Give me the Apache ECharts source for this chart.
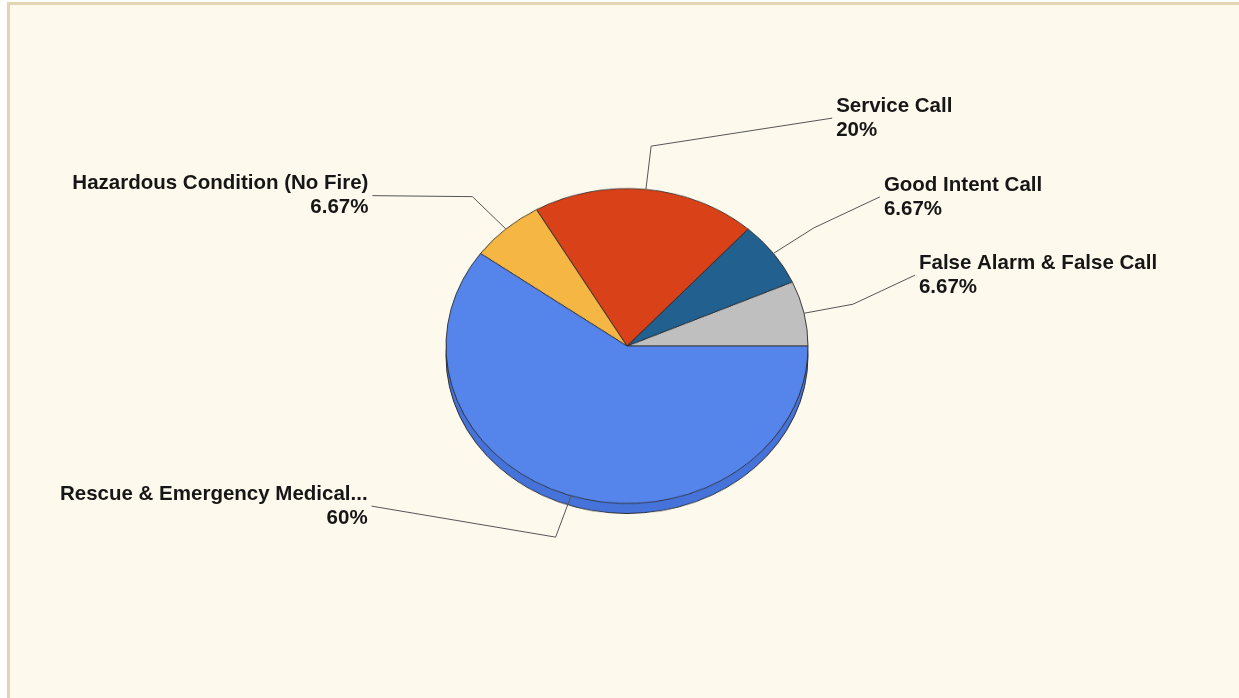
<!DOCTYPE html>
<html>
<head>
<meta charset="utf-8">
<script src="https://cdn.jsdelivr.net/npm/echarts@6/dist/echarts.min.js"></script>
<style>
  html, body { margin: 0; padding: 0; background: #ffffff; }
  #frame {
    position: absolute; left: 7px; top: 2px; width: 1240px; height: 700px;
    background: #fdf9ec; border-left: 3px solid #e4d4b4; border-top: 3px solid #e4d4b4;
  }
  .layer { position: absolute; left: 0; top: 0; width: 1239px; height: 698px; }
  #pie { transform-origin: 0 346px; transform: scaleY(0.87); }
</style>
</head>
<body>
<div id="frame"></div>
<div id="pie" class="layer"></div>
<div id="labels" class="layer"></div>
<script>
// incident counts by type (share of all calls)
var categories = [
  'False Alarm & False Call',
  'Good Intent Call',
  'Service Call',
  'Hazardous Condition (No Fire)',
  'Rescue & Emergency Medical Service Incident'
];
var counts = [1, 1, 3, 1, 9];
var colors = ['#bfbfbf', '#22608f', '#d94118', '#f5b643', '#5584eb'];

// layout of the tilted pie
var CX = 627, CY = 346, R = 181;
var TILT = 0.87;      // vertical squash of the pie
var DEPTH = 11.5;     // thickness of the pie rim (before squash)
// where each label sits relative to the end of its first leader segment
var labelOffsets = [[62, -29], [66, -31], [181, -28], [-100, -1], [-184, -31]];

var total = counts.reduce(function (a, b) { return a + b; }, 0);
var pieData = categories.map(function (c, i) {
  return { name: c, value: counts[i], itemStyle: { color: colors[i] } };
});

function pct(v) {
  return String(Math.round(v / total * 10000) / 100);
}
function shortName(n) {
  return n.length > 30 ? n.slice(0, 26) + '...' : n;
}
function squash(p) {
  return [p[0], CY + (p[1] - CY) * TILT];
}

// pie body (squashed by css)
var pie = echarts.init(document.getElementById('pie'));
pie.setOption({
  animation: false,
  series: [
    {
      type: 'pie',
      silent: true,
      center: [CX, CY + DEPTH],
      radius: R,
      label: { show: false },
      labelLine: { show: false },
      itemStyle: { color: '#4673da', borderColor: '#2b2b2b', borderWidth: 1 },
      data: [{ name: 'rim', value: total }]
    },
    {
      type: 'pie',
      silent: true,
      center: [CX, CY],
      radius: R,
      startAngle: 0,
      clockwise: false,
      label: { show: false },
      labelLine: { show: false },
      itemStyle: { borderColor: '#2b2b2b', borderWidth: 0.9 },
      data: pieData
    }
  ]
});

// labels and leader lines (not squashed)
var labels = echarts.init(document.getElementById('labels'));
labels.setOption({
  animation: false,
  series: [{
    type: 'pie',
    silent: true,
    center: [CX, CY],
    radius: R,
    startAngle: 0,
    clockwise: false,
    itemStyle: { color: 'rgba(0,0,0,0)' },
    label: {
      show: true,
      position: 'outside',
      color: '#161616',
      fontFamily: 'Liberation Sans, Arial, sans-serif',
      fontWeight: 'bold',
      fontSize: 20.5,
      lineHeight: 24,
      formatter: function (p) {
        return shortName(p.name) + '\n' + pct(p.value) + '%';
      }
    },
    labelLine: {
      show: true,
      length: 50,
      length2: 0,
      lineStyle: { color: '#555555', width: 1 }
    },
    labelLayout: function (p) {
      var pts = p.labelLinePoints;
      if (!pts) return {};
      var a = squash(pts[0]);
      var b = squash(pts[1]);
      var off = labelOffsets[p.dataIndex];
      var c = [b[0] + off[0], b[1] + off[1]];
      var right = c[0] > CX;
      return {
        x: c[0] + (right ? 4 : -4),
        y: c[1],
        labelLinePoints: [a, b, c]
      };
    },
    data: categories.map(function (c, i) {
      return { name: c, value: counts[i] };
    })
  }]
});
</script>
</body>
</html>
